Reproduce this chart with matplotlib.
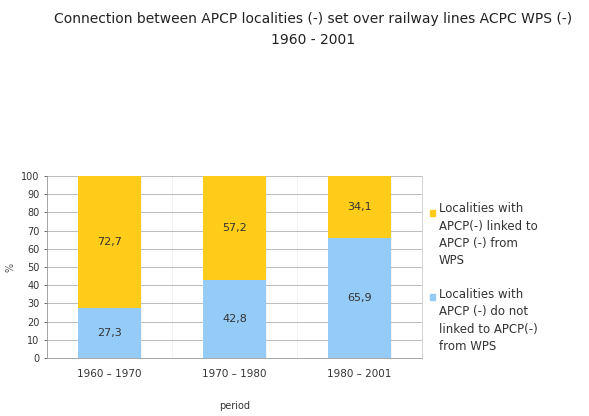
import numpy as np
import matplotlib.pyplot as plt

periods = ["1960 – 1970", "1970 – 1980", "1980 – 2001"]
not_linked = [27.3, 42.8, 65.9]
linked = [72.7, 57.2, 34.1]
labels_linked = ["72,7", "57,2", "34,1"]
labels_not = ["27,3", "42,8", "65,9"]

YELLOW = "#FFCC1A"
BLUE = "#94CCF7"

fig = plt.figure(figsize=(5.89, 4.16), dpi=100)
ax = fig.add_axes([47/589, 1 - 358/416, (422 - 47)/589, (358 - 176)/416])

x = np.arange(len(periods))
ax.bar(x, not_linked, width=0.5, color=BLUE, zorder=3)
ax.bar(x, linked, width=0.5, bottom=not_linked, color=YELLOW, zorder=3)

# value labels in the middle of each segment
for i in range(len(periods)):
    ax.text(x[i], not_linked[i] / 2, labels_not[i], ha="center", va="center",
            fontsize=8, color="#333333", zorder=4)
    ax.text(x[i], not_linked[i] + linked[i] / 2, labels_linked[i], ha="center",
            va="center", fontsize=8, color="#333333", zorder=4)

ax.set_xlim(-0.5, 2.5)
ax.set_ylim(0, 100)
ax.set_yticks(np.arange(0, 101, 10))
ax.set_xticks(x)
ax.set_xticklabels(periods)
ax.tick_params(axis="both", labelsize=7.5, colors="#333333", length=2, width=0.5)
ax.tick_params(axis="y", labelsize=7)
ax.tick_params(axis="x", length=0, pad=8)

ax.set_xticks(np.arange(-0.5, 2.6, 0.25), minor=True)
ax.tick_params(axis="x", which="minor", length=0)
ax.grid(axis="y", color="#BBBBBB", linewidth=0.7, zorder=0)
ax.grid(axis="x", which="minor", color="#EEEEEE", linewidth=0.5, zorder=0)

ax.spines["top"].set_visible(False)
ax.spines["right"].set_color("#CCCCCC")
ax.spines["left"].set_color("#999999")
ax.spines["bottom"].set_color("#999999")
for s in ax.spines.values():
    s.set_linewidth(0.6)

ax.set_ylabel("%", fontsize=7, color="#555555")
ax.yaxis.set_label_coords(-0.085, 0.5)
ax.set_xlabel("period", fontsize=7, color="#333333", labelpad=16)

fig.text(0.532, 0.955, "Connection between APCP localities (-) set over railway lines ACPC WPS (-)",
         ha="center", va="center", fontsize=10, color="#222222")
fig.text(0.532, 0.905, "1960 - 2001", ha="center", va="center", fontsize=10, color="#222222")

# legend
fig.patches.append(plt.Rectangle((430/589, 1 - 216/416), 5/589, 6/416,
                                  transform=fig.transFigure, color=YELLOW))
fig.text(439/589, 1 - 202/416, "Localities with\nAPCP(-) linked to\nAPCP (-) from\nWPS",
         ha="left", va="top", fontsize=8.5, color="#333333", linespacing=1.45)
fig.patches.append(plt.Rectangle((430/589, 1 - 300/416), 5/589, 6/416,
                                  transform=fig.transFigure, color=BLUE))
fig.text(439/589, 1 - 288/416, "Localities with\nAPCP (-) do not\nlinked to APCP(-)\nfrom WPS",
         ha="left", va="top", fontsize=8.5, color="#333333", linespacing=1.45)

fig.savefig("out.png", dpi=100)
